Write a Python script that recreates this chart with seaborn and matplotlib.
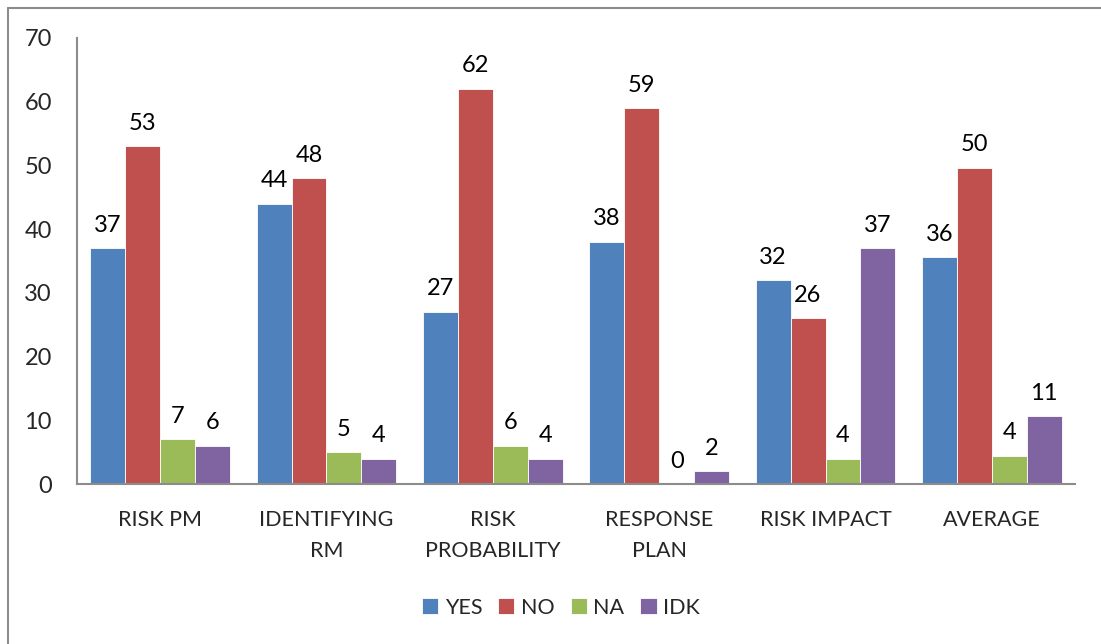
import matplotlib
matplotlib.use("Agg")
import matplotlib.pyplot as plt
from matplotlib.lines import Line2D
import seaborn as sns
import pandas as pd

# Survey responses per risk-management question (percent)
categories = ["RISK PM", "IDENTIFYING\nRM", "RISK\nPROBABILITY",
              "RESPONSE\nPLAN", "RISK IMPACT", "AVERAGE"]
series = ["YES", "NO", "NA", "IDK"]
yes_vals = [37, 44, 27, 38, 32, 35.6]
no_vals = [53, 48, 62, 59, 26, 49.6]
na_vals = [7, 5, 6, 0, 4, 4.4]
idk_vals = [6, 4, 4, 2, 37, 10.6]
colors = ["#4F81BD", "#C0504D", "#9BBB59", "#8064A2"]
y_ticks = [0, 10, 20, 30, 40, 50, 60, 70]

rows = []
for name, vals in zip(series, [yes_vals, no_vals, na_vals, idk_vals]):
    for cat, v in zip(categories, vals):
        rows.append({"category": cat, "series": name, "value": v})
df = pd.DataFrame(rows)

sns.set_theme(style="white")
plt.rcParams["font.family"] = ["Lato", "DejaVu Sans"]

fig = plt.figure(figsize=(11.01, 6.44), dpi=100)
ax = fig.add_axes([0.0699, 0.2484, 0.9065, 0.6926])

sns.barplot(data=df, x="category", y="value", hue="series",
            order=categories, hue_order=series, palette=colors,
            saturation=1, width=0.84, edgecolor="white", linewidth=0.6,
            errorbar=None, ax=ax)

for cont in ax.containers:
    ax.bar_label(cont, labels=[f"{b.get_height():.0f}" for b in cont],
                 padding=9, fontsize=17, color="black")

ax.set_ylim(0, 70)
ax.set_yticks(y_ticks)
ax.set_xlim(-0.5, len(categories) - 0.5)
ax.set_xlabel("")
ax.set_ylabel("")
ax.tick_params(axis="y", labelsize=17, pad=18, length=0)
ax.tick_params(axis="x", labelsize=15.5, pad=19, length=0)
for lbl in ax.get_xticklabels():
    lbl.set_linespacing(1.65)

for side in ["top", "right"]:
    ax.spines[side].set_visible(False)
for side in ["left", "bottom"]:
    ax.spines[side].set_color("#8c8c8c")
    ax.spines[side].set_linewidth(1.5)

leg = ax.legend(loc="center", bbox_to_anchor=(0.485, -0.277), ncol=4,
                frameon=False, fontsize=15.5, handlelength=0.75,
                handleheight=0.75, handletextpad=0.3, columnspacing=0.75)

# Outer chart-area frame
fig.add_artist(Line2D([8 / 1101, 1.0], [1 - 8 / 644, 1 - 8 / 644],
                      transform=fig.transFigure, color="#8c8c8c", lw=1.5))
fig.add_artist(Line2D([8 / 1101, 8 / 1101], [0.0, 1 - 8 / 644],
                      transform=fig.transFigure, color="#8c8c8c", lw=1.5))

fig.savefig("out.png", dpi=100)
